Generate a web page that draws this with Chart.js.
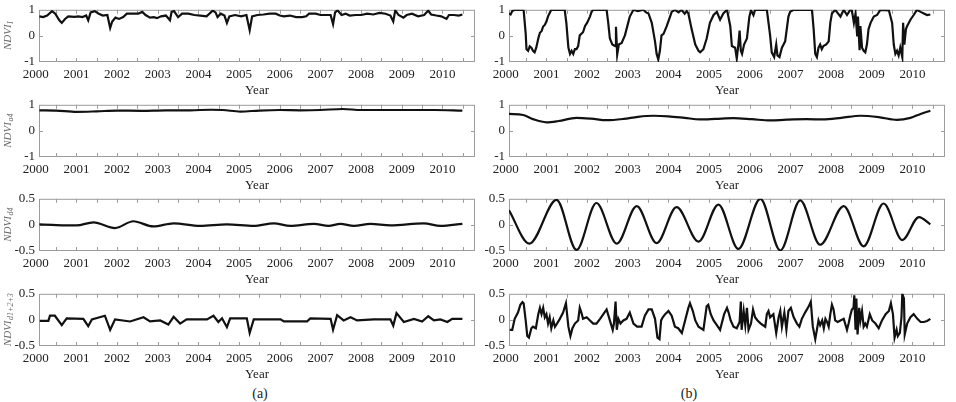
<!DOCTYPE html>
<html>
<head>
<meta charset="utf-8">
<script src="https://cdn.jsdelivr.net/npm/chart.js@4.4.0/dist/chart.umd.min.js"></script>
<style>
  body { margin: 0; background: #fff; width: 956px; height: 402px; position: relative; overflow: hidden; }
  canvas { position: absolute; }
  .cap { position: absolute; width: 40px; text-align: center; font: 14px "Liberation Serif", serif; color: #222; }
</style>
</head>
<body>
<div class="cap" style="left:240px; top:386px">(a)</div>
<div class="cap" style="left:669px; top:386px">(b)</div>
<script>
// time values are years after T0
const T0 = 2000;
const yearTicks = [2000, 2000.5, 2001, 2001.5, 2002, 2002.5, 2003, 2003.5, 2004, 2004.5, 2005, 2005.5,
  2006, 2006.5, 2007, 2007.5, 2008, 2008.5, 2009, 2009.5, 2010, 2010.5];
const yTicksWide = [-1, 0, 1];
const yTicksNarrow = [-0.5, 0, 0.5];

// (a) NDVI_I
const tLeftI = [0.09,0.18,0.28,0.40,0.48,0.58,0.64,0.72,0.80,0.95,1.05,1.15,1.24,1.29,1.35,1.45,1.55,1.65,1.76,1.83,
  1.88,1.96,2.05,2.15,2.24,2.40,2.52,2.62,2.70,2.81,2.90,2.98,3.08,3.20,3.30,3.34,3.40,3.50,3.60,3.75,
  3.90,4.05,4.20,4.35,4.42,4.47,4.55,4.64,4.70,4.76,4.90,5.05,5.18,5.26,5.32,5.45,5.60,5.75,5.90,6.00,
  6.10,6.25,6.40,6.55,6.65,6.72,6.88,7.00,7.12,7.25,7.31,7.36,7.42,7.52,7.62,7.72,7.87,8.00,8.15,8.30,
  8.45,8.60,8.72,8.79,8.84,8.92,9.04,9.12,9.25,9.40,9.55,9.65,9.72,9.85,9.97,10.10,10.16,10.28,10.40,10.49];
const vLeftI = [0.75,0.72,0.78,0.95,0.85,0.60,0.50,0.65,0.75,0.73,0.75,0.72,0.78,0.60,0.90,0.95,0.85,0.78,0.80,0.30,
  0.55,0.70,0.65,0.72,0.85,0.85,0.85,0.92,0.80,0.70,0.72,0.68,0.75,0.78,0.60,0.92,0.95,0.72,0.85,0.85,
  0.80,0.78,0.75,0.97,0.90,0.72,0.85,0.78,0.50,0.75,0.80,0.75,0.80,0.22,0.75,0.80,0.82,0.85,0.85,0.78,
  0.75,0.78,0.72,0.72,0.75,0.85,0.85,0.80,0.80,0.80,0.45,0.90,0.98,0.80,0.85,0.78,0.80,0.80,0.85,0.82,
  0.88,0.85,0.78,0.55,0.98,0.80,0.70,0.80,0.85,0.75,0.80,0.97,0.82,0.78,0.75,0.65,0.80,0.80,0.78,0.82];

// (a) NDVI_a4
const tLeftA4 = [0.09,0.50,1.01,1.50,2.00,2.60,3.20,3.80,4.30,4.60,5.03,5.50,6.00,6.50,7.00,7.55,8.00,8.60,9.20,9.80,10.49];
const vLeftA4 = [0.79,0.78,0.73,0.75,0.78,0.77,0.79,0.79,0.81,0.80,0.74,0.78,0.80,0.79,0.80,0.84,0.80,0.80,0.80,0.80,0.78];

// (a) NDVI_d4
const tLeftD4 = [0.09,0.40,0.76,1.00,1.42,1.95,2.40,2.89,3.39,4.04,4.70,5.36,5.85,6.26,6.84,7.20,7.49,7.82,8.23,8.72,9.54,9.95,10.49];
const vLeftD4 = [0.01,0.00,-0.01,-0.01,0.05,-0.06,0.07,-0.03,0.03,-0.02,0.01,-0.02,0.03,-0.02,0.02,-0.02,0.02,-0.02,0.02,-0.01,0.03,-0.02,0.02];

// (a) NDVI_d1+2+3
const tLeftR = [0.10,0.31,0.35,0.47,0.64,0.76,1.17,1.29,1.38,1.70,1.83,1.95,2.32,2.65,2.81,3.06,3.26,3.39,3.55,3.71,
  4.21,4.37,4.49,4.58,4.70,4.78,5.19,5.26,5.36,6.02,6.10,6.67,6.75,7.25,7.31,7.41,7.57,7.74,7.90,8.31,
  8.72,8.79,8.87,9.05,9.30,9.50,9.65,9.79,9.95,10.12,10.24,10.49];
const vLeftR = [-0.02,-0.02,0.08,0.08,-0.10,0.03,0.02,-0.12,0.01,0.08,-0.19,0.01,-0.03,0.05,-0.03,-0.01,-0.09,0.06,-0.07,0.01,
  0.01,0.08,-0.04,0.03,-0.14,0.03,0.03,-0.25,0.01,0.01,-0.03,-0.03,0.03,0.02,-0.19,0.09,-0.01,0.05,-0.01,0.01,
  0.01,-0.11,0.13,-0.04,0.02,-0.03,0.07,-0.01,0.01,-0.04,0.02,0.02];

// (b) NDVI_I
const tRightI = [0.08,0.12,0.16,0.22,0.40,0.44,0.49,0.51,0.55,0.59,0.63,0.67,0.71,0.75,0.80,0.84,0.88,0.92,0.96,1.00,
  1.04,1.08,1.12,1.45,1.49,1.54,1.58,1.62,1.66,1.70,1.74,1.78,1.82,1.86,1.90,1.95,2.00,2.07,2.11,2.15,
  2.48,2.52,2.56,2.62,2.69,2.71,2.74,2.78,2.85,2.93,3.01,3.05,3.14,3.25,3.38,3.45,3.51,3.59,3.67,3.71,
  3.75,3.79,3.83,3.88,3.96,4.04,4.08,4.16,4.25,4.32,4.40,4.45,4.49,4.57,4.66,4.74,4.78,4.86,4.94,5.02,
  5.11,5.19,5.27,5.35,5.44,5.52,5.56,5.64,5.68,5.72,5.75,5.78,5.81,5.86,5.93,5.99,6.03,6.09,6.13,6.42,
  6.50,6.54,6.60,6.65,6.68,6.73,6.79,6.87,6.95,6.99,7.08,7.53,7.57,7.61,7.65,7.69,7.73,7.77,7.81,7.88,
  7.94,7.98,8.02,8.10,8.23,8.31,8.39,8.47,8.51,8.56,8.60,8.64,8.66,8.70,8.72,8.76,8.80,8.84,8.88,8.92,
  8.97,9.05,9.13,9.21,9.42,9.50,9.54,9.58,9.62,9.66,9.70,9.75,9.77,9.80,9.84,9.87,9.95,10.03,10.11,10.20,
  10.28,10.36,10.44];
const vRightI = [0.86,0.82,0.95,1.0,1.0,0.98,0.10,-0.51,-0.57,-0.40,-0.45,-0.57,-0.63,-0.45,-0.10,0.12,0.18,0.36,0.42,0.55,
  0.75,0.88,1.0,1.0,0.50,-0.45,-0.69,-0.57,-0.69,-0.51,-0.51,-0.39,0.02,0.08,0.14,0.38,0.50,0.74,0.92,1.0,
  1.0,0.50,-0.10,-0.33,-0.39,0.35,-0.72,-0.33,-0.27,0.02,0.50,0.74,1.0,0.95,1.0,0.90,0.86,0.50,-0.21,-0.69,
  -0.90,-0.57,0.02,0.08,0.38,0.74,0.92,1.0,0.90,1.0,0.85,0.95,0.86,0.26,-0.33,-0.57,-0.63,-0.51,-0.10,0.50,
  0.80,0.92,0.62,0.86,1.0,0.38,-0.39,-0.45,-0.87,-0.33,0.20,-0.57,-0.69,-0.33,-0.10,0.74,0.98,0.80,1.0,1.0,
  0.02,-0.63,-0.81,-0.33,-0.75,-0.81,-0.45,-0.21,0.74,0.92,1.0,1.0,0.26,-0.69,-0.81,-0.45,-0.33,-0.51,-0.39,-0.33,
  -0.21,0.50,0.86,1.0,0.74,1.0,0.80,1.0,0.98,0.50,0.86,0.02,0.74,-0.55,0.38,-0.45,-0.57,-0.63,-0.33,0.26,
  0.50,0.74,0.80,1.0,0.98,0.50,-0.33,-0.69,-0.57,-0.75,-0.45,-0.81,0.50,-0.33,0.26,0.38,0.62,0.80,1.0,0.92,
  0.86,0.80,0.82];

// (b) NDVI_a4
const tRightA4 = [0.08,0.43,0.67,1.00,1.30,1.74,2.10,2.48,2.90,3.25,3.63,4.00,4.40,4.77,5.15,5.59,6.05,6.50,6.90,7.40,7.80,8.25,8.72,9.20,9.62,9.95,10.20,10.44];
const vRightA4 = [0.65,0.61,0.45,0.33,0.38,0.50,0.47,0.41,0.46,0.54,0.58,0.56,0.50,0.44,0.46,0.49,0.45,0.40,0.43,0.45,0.44,0.50,0.58,0.52,0.42,0.50,0.65,0.77];

// (b) NDVI_d4
const tRightD4 = [0.08,0.58,1.25,1.74,2.23,2.73,3.22,3.71,4.20,4.74,5.23,5.72,6.26,6.75,7.24,7.73,8.31,8.80,9.29,9.75,10.16,10.44];
const vRightD4 = [0.28,-0.36,0.48,-0.48,0.42,-0.36,0.36,-0.35,0.34,-0.32,0.39,-0.46,0.50,-0.49,0.47,-0.38,0.36,-0.41,0.41,-0.29,0.15,0.01];

// (b) NDVI_d1+2+3
const tRightR = [0.10,0.16,0.22,0.30,0.36,0.41,0.44,0.49,0.53,0.57,0.63,0.67,0.74,0.80,0.84,0.88,0.92,0.96,1.00,1.04,
  1.08,1.12,1.17,1.21,1.26,1.33,1.41,1.48,1.54,1.59,1.64,1.70,1.78,1.82,1.86,1.90,1.99,2.07,2.15,2.23,
  2.32,2.40,2.48,2.56,2.63,2.66,2.70,2.73,2.77,2.82,2.89,2.97,3.05,3.14,3.23,3.34,3.42,3.51,3.59,3.67,
  3.73,3.78,3.82,3.86,3.92,4.00,4.08,4.16,4.24,4.33,4.41,4.49,4.53,4.60,4.66,4.74,4.86,4.94,4.98,5.04,
  5.11,5.19,5.27,5.37,5.44,5.48,5.53,5.60,5.68,5.75,5.78,5.80,5.85,5.89,5.93,5.97,6.03,6.08,6.13,6.19,
  6.27,6.38,6.42,6.46,6.50,6.58,6.65,6.71,6.75,6.79,6.85,6.90,6.95,7.01,7.08,7.16,7.22,7.28,7.36,7.45,
  7.50,7.55,7.61,7.65,7.69,7.73,7.78,7.82,7.86,7.90,7.94,7.98,8.02,8.06,8.10,8.16,8.23,8.31,8.39,8.43,
  8.47,8.51,8.55,8.57,8.60,8.62,8.65,8.69,8.72,8.76,8.80,8.84,8.88,8.95,9.01,9.09,9.17,9.25,9.34,9.42,
  9.47,9.52,9.56,9.61,9.64,9.69,9.73,9.75,9.79,9.81,9.87,9.95,10.03,10.12,10.20,10.28,10.36,10.44];
const vRightR = [-0.19,-0.19,0.02,0.14,0.29,0.34,0.32,-0.01,-0.31,-0.34,-0.16,-0.13,-0.16,0.11,0.23,0.11,0.23,0.05,0.11,-0.07,
  0.05,-0.16,-0.01,-0.13,-0.07,0.02,0.14,0.32,-0.13,-0.31,-0.16,-0.07,-0.01,0.23,0.14,0.02,0.05,-0.01,-0.07,-0.07,
  0.02,0.11,0.20,-0.01,-0.19,-0.07,0.35,-0.19,0.02,-0.07,-0.01,0.02,0.14,-0.07,-0.13,-0.13,0.08,0.20,0.20,0.02,
  -0.34,-0.37,-0.01,0.05,0.11,0.17,0.08,-0.13,-0.16,-0.25,-0.01,0.23,0.32,0.17,-0.01,-0.13,-0.19,0.26,0.29,0.11,
  -0.01,-0.10,-0.19,0.11,0.23,0.14,-0.01,-0.13,-0.16,-0.04,0.35,-0.19,0.17,-0.10,0.23,-0.19,-0.07,0.20,0.05,-0.01,
  -0.07,-0.13,0.11,0.17,0.05,0.11,-0.25,0.05,0.17,-0.13,0.14,-0.19,0.17,0.23,0.05,-0.07,-0.13,0.02,0.14,0.26,
  0.35,-0.13,-0.37,-0.19,-0.01,-0.10,-0.01,-0.16,0.02,-0.04,-0.13,0.11,0.29,0.20,-0.01,-0.04,-0.01,0.02,-0.19,-0.07,
  0.08,0.20,0.23,0.47,-0.19,0.41,-0.28,0.23,-0.01,0.17,-0.13,-0.07,-0.13,0.11,-0.01,-0.07,-0.16,-0.01,0.11,0.17,
  0.32,0.11,-0.34,-0.19,-0.31,-0.25,0.05,0.50,0.41,-0.28,-0.07,0.05,0.11,0.02,-0.04,-0.04,-0.02,0.02];

const SERIF = '"Liberation Serif", "DejaVu Serif", serif';

// box, inward ticks and the rotated y title with its subscript
const frame = {
  id: 'frame',
  beforeDatasetsDraw(chart, args, opts) {
    const { ctx, chartArea: a, scales: { x, y } } = chart;
    ctx.save();
    ctx.strokeStyle = '#9c9c9c';
    ctx.lineWidth = 1;
    ctx.strokeRect(a.left + 0.5, a.top + 0.5, a.right - a.left - 1, a.bottom - a.top - 1);
    ctx.beginPath();
    x.ticks.forEach(t => {
      if (t.value <= x.min || t.value >= x.max) return;
      const px = Math.round(x.getPixelForValue(t.value)) + 0.5;
      ctx.moveTo(px, a.bottom); ctx.lineTo(px, a.bottom - 4);
      ctx.moveTo(px, a.top); ctx.lineTo(px, a.top + 4);
    });
    y.ticks.forEach(t => {
      if (t.value <= y.min || t.value >= y.max) return;
      const py = Math.round(y.getPixelForValue(t.value)) + 0.5;
      ctx.moveTo(a.left, py); ctx.lineTo(a.left + 4, py);
      ctx.moveTo(a.right, py); ctx.lineTo(a.right - 4, py);
    });
    ctx.stroke();
    ctx.restore();
  },
  afterDraw(chart, args, opts) {
    if (!opts.main) return;
    const { ctx, chartArea: a } = chart;
    ctx.save();
    ctx.fillStyle = '#6a6a6a';
    ctx.translate(8, (a.top + a.bottom) / 2);
    ctx.rotate(-Math.PI / 2);
    ctx.textBaseline = 'middle';
    ctx.font = 'italic 11px ' + SERIF;
    const w1 = ctx.measureText(opts.main).width;
    ctx.font = 'italic 8px ' + SERIF;
    const w2 = ctx.measureText(opts.sub).width;
    const x0 = -(w1 + w2) / 2;
    ctx.font = 'italic 11px ' + SERIF;
    ctx.fillText(opts.main, x0, 0);
    ctx.font = 'italic 8px ' + SERIF;
    ctx.fillText(opts.sub, x0 + w1 + 0.5, 3);
    ctx.restore();
  }
};

function panel(col, areaTop, tArr, vArr, yTicks, smooth, sub) {
  const c = document.createElement('canvas');
  c.width = 478;
  c.height = 100;
  c.style.left = (col === 0 ? 0 : 478) + 'px';
  c.style.top = (areaTop - 8) + 'px';
  document.body.appendChild(c);
  const yMax = yTicks[yTicks.length - 1];
  new Chart(c, {
    type: 'line',
    data: {
      datasets: [{
        data: tArr.map((t, i) => ({ x: T0 + t, y: vArr[i] })),
        borderColor: '#111',
        borderWidth: 2.2,
        pointRadius: 0,
        tension: 0,
        cubicInterpolationMode: smooth ? 'monotone' : 'default'
      }]
    },
    options: {
      responsive: false,
      animation: false,
      events: [],
      layout: { padding: { top: 8, left: 0, bottom: 0, right: col === 0 ? 3 : 11 } },
      plugins: {
        legend: { display: false },
        tooltip: { enabled: false },
        frame: col === 0 ? { main: 'NDVI', sub: sub } : {}
      },
      scales: {
        x: {
          type: 'linear',
          min: 2000.08,
          max: 2010.8,
          afterBuildTicks: s => { s.ticks = yearTicks.map(v => ({ value: v })); },
          afterFit: s => { s.height = 36; },
          grid: { display: false, drawTicks: false },
          border: { display: false },
          ticks: {
            autoSkip: false, maxRotation: 0, padding: 5, color: '#222',
            font: { family: SERIF, size: 13 },
            callback: v => Number.isInteger(v) ? String(v) : ''
          },
          title: {
            display: true, text: 'Year', color: '#222',
            font: { family: SERIF, size: 13, lineHeight: 1 },
            padding: { top: 0, bottom: 1 }
          }
        },
        y: {
          min: -yMax,
          max: yMax,
          afterBuildTicks: s => { s.ticks = yTicks.map(v => ({ value: v })); },
          afterFit: s => { s.width = col === 0 ? 39 : 31; },
          grid: { display: false, drawTicks: false },
          border: { display: false },
          ticks: {
            padding: 4, color: '#222',
            font: { family: SERIF, size: 13 },
            callback: v => String(v)
          }
        }
      }
    },
    plugins: [frame]
  });
}

const tops = [6, 101, 195, 290];
panel(0, tops[0], tLeftI, vLeftI, yTicksWide, false, 'I');
panel(0, tops[1], tLeftA4, vLeftA4, yTicksWide, true, 'a4');
panel(0, tops[2], tLeftD4, vLeftD4, yTicksNarrow, true, 'd4');
panel(0, tops[3], tLeftR, vLeftR, yTicksNarrow, false, 'd1+2+3');
panel(1, tops[0], tRightI, vRightI, yTicksWide, false);
panel(1, tops[1], tRightA4, vRightA4, yTicksWide, true);
panel(1, tops[2], tRightD4, vRightD4, yTicksNarrow, true);
panel(1, tops[3], tRightR, vRightR, yTicksNarrow, false);
</script>
</body>
</html>
